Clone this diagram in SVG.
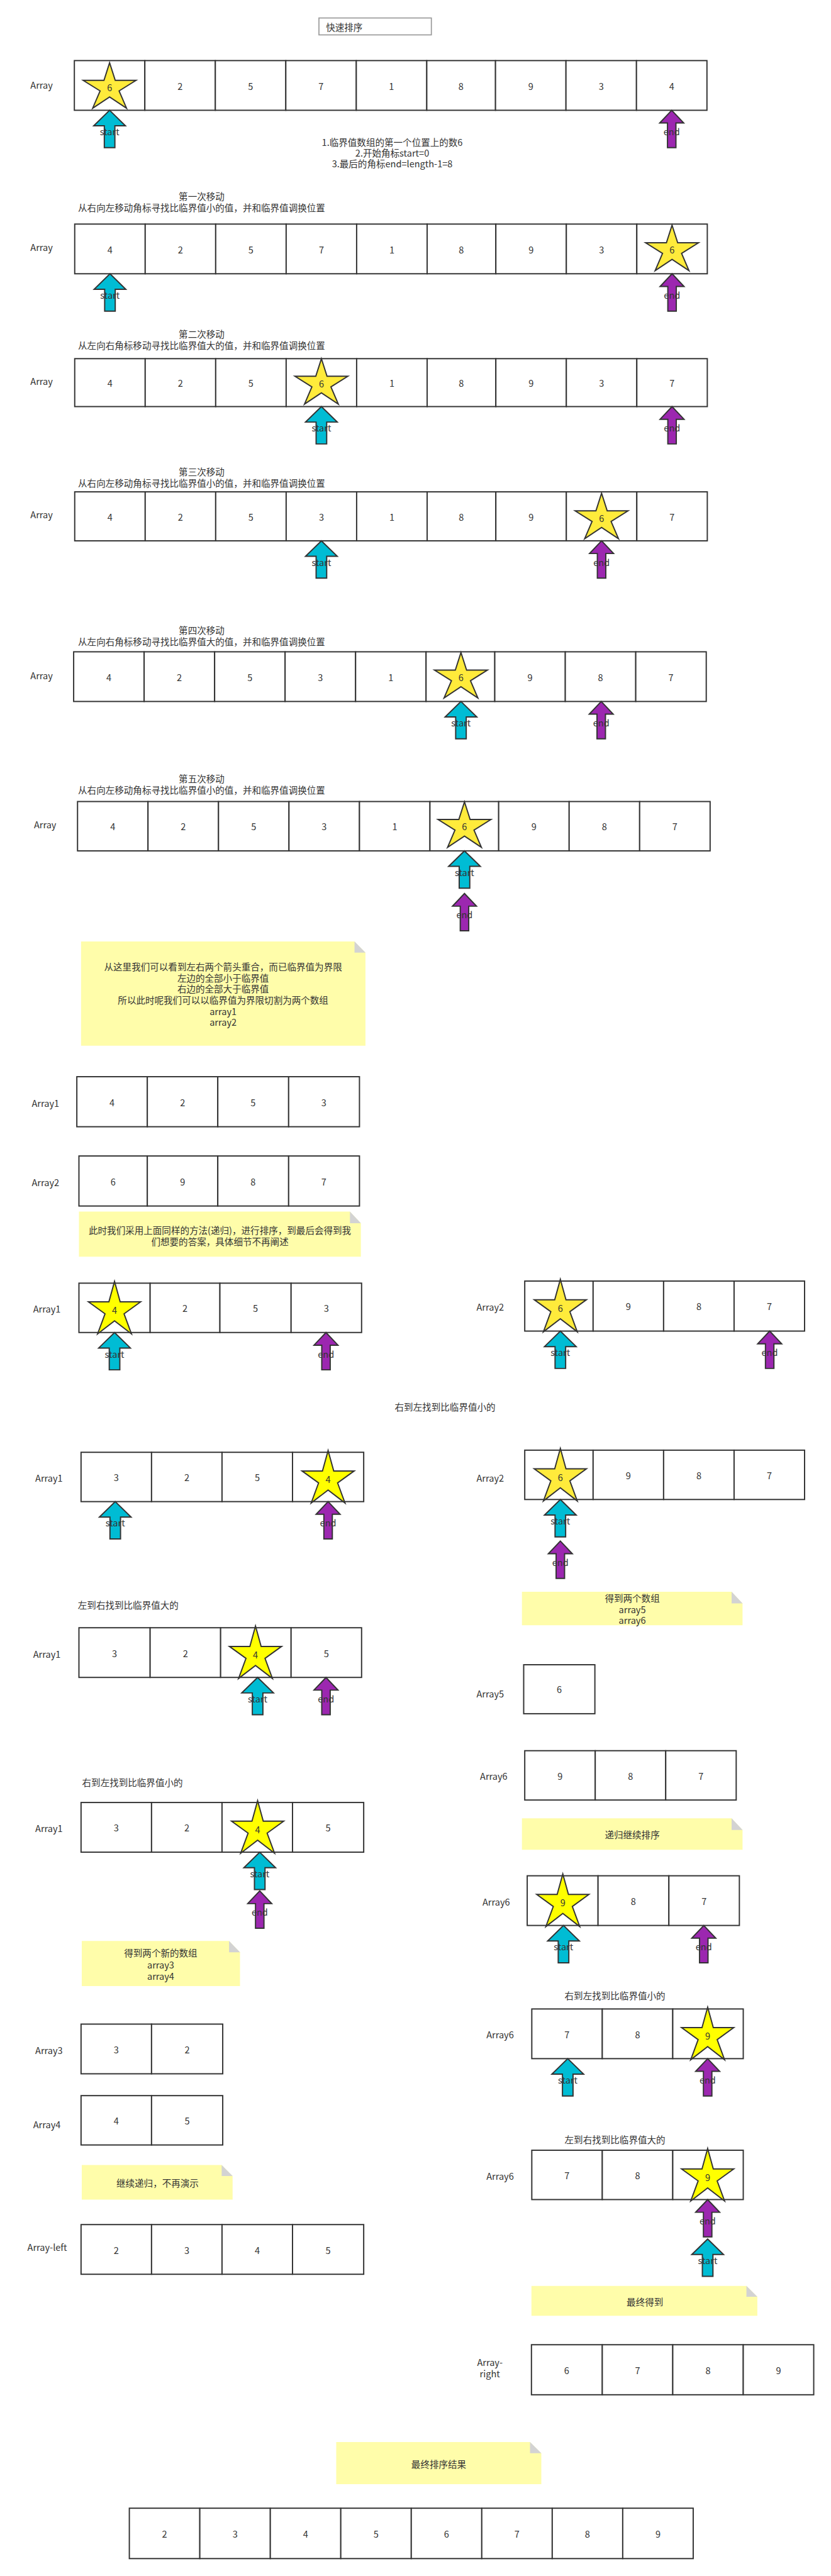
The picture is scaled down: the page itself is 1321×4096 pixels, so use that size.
<svg xmlns="http://www.w3.org/2000/svg" xmlns:xlink="http://www.w3.org/1999/xlink" width="1321" height="4096" viewBox="0 0 1321 4096">
<style>
.c{fill:#fff;stroke:#333;stroke-width:3.5}
.t{font-family:"Noto Sans CJK SC","Noto Sans",sans-serif;font-size:26px;fill:#333}
.m{text-anchor:middle}
.sa{fill:#FFEB3B;stroke:#333;stroke-width:3.5}
.sb{fill:#FFFF00;stroke:#333;stroke-width:3.5}
.ac{fill:#00BCD4;stroke:#333;stroke-width:3.5}
.ap{fill:#9C27B0;stroke:#333;stroke-width:3.5}
.n{fill:#FFFDAA}
.f{fill:#D3D3D3}
.tb{fill:#fff;stroke:#999;stroke-width:3}
</style>
<defs>
<polygon id="starA" points="0,0 16,50 75,50 27,80 48,129 0,97 -48,129 -27,80 -75,50 -16,50"/>
<polygon id="starB" points="0,0 16,58 74,58 27,92 48,149 0,112 -48,149 -27,92 -74,58 -16,58"/>
<polygon id="arrC" points="0,0 45,44 15,44 15,106 -15,106 -15,44 -45,44"/>
<polygon id="arrP" points="0,0 34,36 12,36 12,106 -12,106 -12,36 -34,36"/>
</defs>
<rect width="1321" height="4096" fill="#fff"/>
<g transform="scale(0.56022)">
<g id="title"><rect class="tb" x="905" y="51" width="319" height="48"/><text class="t" x="925" y="88">快速排序</text></g>

<!-- Row A -->
<g id="rowA">
<text class="t m" x="118" y="251">Array</text>
<rect class="c" x="211" y="172" width="200" height="141"/><rect class="c" x="411" y="172" width="200" height="141"/><rect class="c" x="611" y="172" width="200" height="141"/><rect class="c" x="811" y="172" width="200" height="141"/><rect class="c" x="1011" y="172" width="200" height="141"/><rect class="c" x="1211" y="172" width="195" height="141"/><rect class="c" x="1406" y="172" width="200" height="141"/><rect class="c" x="1606" y="172" width="200" height="141"/><rect class="c" x="1806" y="172" width="200" height="141"/>
<g class="t m"><text x="511" y="255">2</text><text x="711" y="255">5</text><text x="911" y="255">7</text><text x="1111" y="255">1</text><text x="1308" y="255">8</text><text x="1506" y="255">9</text><text x="1706" y="255">3</text><text x="1906" y="255">4</text></g>
<use href="#starA" x="311" y="178" class="sa"/><text class="t m" x="311" y="259">6</text>
</g>
<g id="rowA-start"><use href="#arrC" x="311" y="313" class="ac"/><text class="t m" x="311" y="384">start</text></g>
<g id="rowA-end"><use href="#arrP" x="1906" y="313" class="ap"/><text class="t m" x="1906" y="384">end</text></g>
<g id="intro" class="t m"><text x="1113" y="414">1.临界值数组的第一个位置上的数6</text><text x="1113" y="444">2.开始角标start=0</text><text x="1113" y="475">3.最后的角标end=length-1=8</text></g>

<!-- Row B -->
<g id="rowB-title" class="t m"><text x="572" y="567">第一次移动</text><text x="572" y="599">从右向左移动角标寻找比临界值小的值，并和临界值调换位置</text></g>
<g id="rowB">
<text class="t m" x="118" y="712">Array</text>
<rect class="c" x="212" y="636" width="200" height="141"/><rect class="c" x="412" y="636" width="200" height="141"/><rect class="c" x="612" y="636" width="200" height="141"/><rect class="c" x="812" y="636" width="200" height="141"/><rect class="c" x="1012" y="636" width="200" height="141"/><rect class="c" x="1212" y="636" width="195" height="141"/><rect class="c" x="1407" y="636" width="200" height="141"/><rect class="c" x="1607" y="636" width="200" height="141"/><rect class="c" x="1807" y="636" width="200" height="141"/>
<g class="t m"><text x="312" y="719">4</text><text x="512" y="719">2</text><text x="712" y="719">5</text><text x="912" y="719">7</text><text x="1112" y="719">1</text><text x="1309" y="719">8</text><text x="1507" y="719">9</text><text x="1707" y="719">3</text></g>
<use href="#starA" x="1907" y="639" class="sa"/><text class="t m" x="1907" y="720">6</text>
</g>
<g id="rowB-start"><use href="#arrC" x="312" y="777" class="ac"/><text class="t m" x="312" y="848">start</text></g>
<g id="rowB-end"><use href="#arrP" x="1907" y="777" class="ap"/><text class="t m" x="1907" y="848">end</text></g>

<!-- Row C -->
<g id="rowC-title" class="t m"><text x="572" y="958">第二次移动</text><text x="572" y="990">从左向右角标移动寻找比临界值大的值，并和临界值调换位置</text></g>
<g id="rowC">
<text class="t m" x="118" y="1092">Array</text>
<rect class="c" x="212" y="1018" width="200" height="136"/><rect class="c" x="412" y="1018" width="200" height="136"/><rect class="c" x="612" y="1018" width="200" height="136"/><rect class="c" x="812" y="1018" width="200" height="136"/><rect class="c" x="1012" y="1018" width="200" height="136"/><rect class="c" x="1212" y="1018" width="195" height="136"/><rect class="c" x="1407" y="1018" width="200" height="136"/><rect class="c" x="1607" y="1018" width="200" height="136"/><rect class="c" x="1807" y="1018" width="200" height="136"/>
<g class="t m"><text x="312" y="1098">4</text><text x="512" y="1098">2</text><text x="712" y="1098">5</text><text x="1112" y="1098">1</text><text x="1309" y="1098">8</text><text x="1507" y="1098">9</text><text x="1707" y="1098">3</text><text x="1907" y="1098">7</text></g>
<use href="#starA" x="912" y="1018" class="sa"/><text class="t m" x="912" y="1099">6</text>
</g>
<g id="rowC-start"><use href="#arrC" x="912" y="1154" class="ac"/><text class="t m" x="912" y="1225">start</text></g>
<g id="rowC-end"><use href="#arrP" x="1907" y="1154" class="ap"/><text class="t m" x="1907" y="1225">end</text></g>

<!-- Row D -->
<g id="rowD-title" class="t m"><text x="572" y="1350">第三次移动</text><text x="572" y="1382">从右向左移动角标寻找比临界值小的值，并和临界值调换位置</text></g>
<g id="rowD">
<text class="t m" x="118" y="1471">Array</text>
<rect class="c" x="212" y="1396" width="200" height="139"/><rect class="c" x="412" y="1396" width="200" height="139"/><rect class="c" x="612" y="1396" width="200" height="139"/><rect class="c" x="812" y="1396" width="200" height="139"/><rect class="c" x="1012" y="1396" width="200" height="139"/><rect class="c" x="1212" y="1396" width="195" height="139"/><rect class="c" x="1407" y="1396" width="200" height="139"/><rect class="c" x="1607" y="1396" width="200" height="139"/><rect class="c" x="1807" y="1396" width="200" height="139"/>
<g class="t m"><text x="312" y="1478">4</text><text x="512" y="1478">2</text><text x="712" y="1478">5</text><text x="912" y="1478">3</text><text x="1112" y="1478">1</text><text x="1309" y="1478">8</text><text x="1507" y="1478">9</text><text x="1907" y="1478">7</text></g>
<use href="#starA" x="1707" y="1400" class="sa"/><text class="t m" x="1707" y="1481">6</text>
</g>
<g id="rowD-start"><use href="#arrC" x="912" y="1535" class="ac"/><text class="t m" x="912" y="1606">start</text></g>
<g id="rowD-end"><use href="#arrP" x="1707" y="1535" class="ap"/><text class="t m" x="1707" y="1606">end</text></g>

<!-- Row E -->
<g id="rowE-title" class="t m"><text x="572" y="1799">第四次移动</text><text x="572" y="1831">从左向右角标移动寻找比临界值大的值，并和临界值调换位置</text></g>
<g id="rowE">
<text class="t m" x="118" y="1927">Array</text>
<rect class="c" x="209" y="1850" width="200" height="141"/><rect class="c" x="409" y="1850" width="200" height="141"/><rect class="c" x="609" y="1850" width="200" height="141"/><rect class="c" x="809" y="1850" width="200" height="141"/><rect class="c" x="1009" y="1850" width="200" height="141"/><rect class="c" x="1209" y="1850" width="195" height="141"/><rect class="c" x="1404" y="1850" width="200" height="141"/><rect class="c" x="1604" y="1850" width="200" height="141"/><rect class="c" x="1804" y="1850" width="200" height="141"/>
<g class="t m"><text x="309" y="1933">4</text><text x="509" y="1933">2</text><text x="709" y="1933">5</text><text x="909" y="1933">3</text><text x="1109" y="1933">1</text><text x="1504" y="1933">9</text><text x="1704" y="1933">8</text><text x="1904" y="1933">7</text></g>
<use href="#starA" x="1308" y="1852" class="sa"/><text class="t m" x="1308" y="1933">6</text>
</g>
<g id="rowE-start"><use href="#arrC" x="1308" y="1991" class="ac"/><text class="t m" x="1308" y="2062">start</text></g>
<g id="rowE-end"><use href="#arrP" x="1706" y="1991" class="ap"/><text class="t m" x="1706" y="2062">end</text></g>

<!-- Row F -->
<g id="rowF-title" class="t m"><text x="572" y="2220">第五次移动</text><text x="572" y="2252">从右向左移动角标寻找比临界值小的值，并和临界值调换位置</text></g>
<g id="rowF">
<text class="t m" x="128" y="2351">Array</text>
<rect class="c" x="220" y="2275" width="200" height="140"/><rect class="c" x="420" y="2275" width="200" height="140"/><rect class="c" x="620" y="2275" width="200" height="140"/><rect class="c" x="820" y="2275" width="200" height="140"/><rect class="c" x="1020" y="2275" width="200" height="140"/><rect class="c" x="1220" y="2275" width="195" height="140"/><rect class="c" x="1415" y="2275" width="200" height="140"/><rect class="c" x="1615" y="2275" width="200" height="140"/><rect class="c" x="1815" y="2275" width="200" height="140"/>
<g class="t m"><text x="320" y="2357">4</text><text x="520" y="2357">2</text><text x="720" y="2357">5</text><text x="920" y="2357">3</text><text x="1120" y="2357">1</text><text x="1515" y="2357">9</text><text x="1715" y="2357">8</text><text x="1915" y="2357">7</text></g>
<use href="#starA" x="1318" y="2276" class="sa"/><text class="t m" x="1318" y="2357">6</text>
</g>
<g id="rowF-start"><use href="#arrC" x="1318" y="2415" class="ac"/><text class="t m" x="1318" y="2486">start</text></g>
<g id="rowF-end"><use href="#arrP" x="1318" y="2536" class="ap"/><text class="t m" x="1318" y="2607">end</text></g>

<!-- Note 1 -->
<g id="note1"><polygon class="n" points="230,2672 1006,2672 1037,2704 1037,2968 230,2968"/><polygon class="f" points="1006,2672 1006,2704 1037,2704"/>
<g class="t m"><text x="633" y="2755">从这里我们可以看到左右两个箭头重合，而已临界值为界限</text><text x="633" y="2786">左边的全部小于临界值</text><text x="633" y="2817">右边的全部大于临界值</text><text x="633" y="2848">所以此时呢我们可以以临界值为界限切割为两个数组</text><text x="633" y="2881">array1</text><text x="633" y="2912">array2</text></g></g>

<!-- Array1 / Array2 split -->
<g id="split-array1">
<text class="t m" x="129" y="3141">Array1</text>
<rect class="c" x="218" y="3056" width="200" height="142"/><rect class="c" x="418" y="3056" width="200" height="142"/><rect class="c" x="618" y="3056" width="201" height="142"/><rect class="c" x="819" y="3056" width="201" height="142"/>
<g class="t m"><text x="318" y="3139">4</text><text x="518" y="3139">2</text><text x="718" y="3139">5</text><text x="919" y="3139">3</text></g>
</g>
<g id="split-array2">
<text class="t m" x="129" y="3366">Array2</text>
<rect class="c" x="224" y="3281" width="194" height="142"/><rect class="c" x="418" y="3281" width="200" height="142"/><rect class="c" x="618" y="3281" width="201" height="142"/><rect class="c" x="819" y="3281" width="201" height="142"/>
<g class="t m"><text x="321" y="3364">6</text><text x="518" y="3364">9</text><text x="718" y="3364">8</text><text x="919" y="3364">7</text></g>
</g>
<g id="note2"><polygon class="n" points="224,3439 993,3439 1024,3472 1024,3567 224,3567"/><polygon class="f" points="993,3439 993,3472 1024,3472"/>
<g class="t m"><text x="624" y="3502">此时我们采用上面同样的方法(递归)，进行排序，到最后会得到我</text><text x="624" y="3535">们想要的答案，具体细节不再阐述</text></g></g>

<!-- Row G -->
<g id="rowG-left">
<text class="t m" x="133" y="3725">Array1</text>
<rect class="c" x="224" y="3642" width="202" height="140"/><rect class="c" x="426" y="3642" width="198" height="140"/><rect class="c" x="624" y="3642" width="202" height="140"/><rect class="c" x="826" y="3642" width="200" height="140"/>
<g class="t m"><text x="525" y="3724">2</text><text x="725" y="3724">5</text><text x="926" y="3724">3</text></g>
<use href="#starB" x="325" y="3637" class="sb"/><text class="t m" x="325" y="3729">4</text>
</g>
<g id="rowG-left-start"><use href="#arrC" x="325" y="3782" class="ac"/><text class="t m" x="325" y="3853">start</text></g>
<g id="rowG-left-end"><use href="#arrP" x="925" y="3782" class="ap"/><text class="t m" x="925" y="3853">end</text></g>
<g id="rowG-right">
<text class="t m" x="1391" y="3720">Array2</text>
<rect class="c" x="1489" y="3636" width="194" height="142"/><rect class="c" x="1683" y="3636" width="200" height="142"/><rect class="c" x="1883" y="3636" width="200" height="142"/><rect class="c" x="2083" y="3636" width="200" height="142"/>
<g class="t m"><text x="1783" y="3719">9</text><text x="1983" y="3719">8</text><text x="2183" y="3719">7</text></g>
<use href="#starB" x="1590" y="3631" class="sa"/><text class="t m" x="1590" y="3723">6</text>
</g>
<g id="rowG-right-start"><use href="#arrC" x="1590" y="3778" class="ac"/><text class="t m" x="1590" y="3849">start</text></g>
<g id="rowG-right-end"><use href="#arrP" x="2184" y="3778" class="ap"/><text class="t m" x="2184" y="3849">end</text></g>

<text id="lbl-r2l-1" class="t m" x="1263" y="4004">右到左找到比临界值小的</text>

<!-- Row H -->
<g id="rowH-left">
<text class="t m" x="139" y="4206">Array1</text>
<rect class="c" x="230" y="4122" width="200" height="140"/><rect class="c" x="430" y="4122" width="200" height="140"/><rect class="c" x="630" y="4122" width="200" height="140"/><rect class="c" x="830" y="4122" width="202" height="140"/>
<g class="t m"><text x="330" y="4204">3</text><text x="530" y="4204">2</text><text x="730" y="4204">5</text></g>
<use href="#starB" x="931" y="4117" class="sb"/><text class="t m" x="931" y="4209">4</text>
</g>
<g id="rowH-left-start"><use href="#arrC" x="327" y="4262" class="ac"/><text class="t m" x="327" y="4333">start</text></g>
<g id="rowH-left-end"><use href="#arrP" x="931" y="4262" class="ap"/><text class="t m" x="931" y="4333">end</text></g>
<g id="rowH-right">
<text class="t m" x="1391" y="4206">Array2</text>
<rect class="c" x="1489" y="4116" width="194" height="140"/><rect class="c" x="1683" y="4116" width="200" height="140"/><rect class="c" x="1883" y="4116" width="200" height="140"/><rect class="c" x="2083" y="4116" width="200" height="140"/>
<g class="t m"><text x="1783" y="4198">9</text><text x="1983" y="4198">8</text><text x="2183" y="4198">7</text></g>
<use href="#starB" x="1590" y="4111" class="sa"/><text class="t m" x="1590" y="4203">6</text>
</g>
<g id="rowH-right-start"><use href="#arrC" x="1590" y="4256" class="ac"/><text class="t m" x="1590" y="4327">start</text></g>
<g id="rowH-right-end"><use href="#arrP" x="1590" y="4374" class="ap"/><text class="t m" x="1590" y="4445">end</text></g>

<g id="note3"><polygon class="n" points="1481,4518 2076,4518 2107,4551 2107,4613 1481,4613"/><polygon class="f" points="2076,4518 2076,4551 2107,4551"/>
<g class="t m"><text x="1794" y="4546">得到两个数组</text><text x="1794" y="4578">array5</text><text x="1794" y="4609">array6</text></g></g>

<text id="lbl-l2r-1" class="t" x="221" y="4566">左到右找到比临界值大的</text>

<!-- Row I -->
<g id="rowI-left">
<text class="t m" x="133" y="4705">Array1</text>
<rect class="c" x="224" y="4620" width="202" height="141"/><rect class="c" x="426" y="4620" width="200" height="141"/><rect class="c" x="626" y="4620" width="200" height="141"/><rect class="c" x="826" y="4620" width="200" height="141"/>
<g class="t m"><text x="325" y="4703">3</text><text x="526" y="4703">2</text><text x="926" y="4703">5</text></g>
<use href="#starB" x="725" y="4615" class="sb"/><text class="t m" x="725" y="4707">4</text>
</g>
<g id="rowI-left-start"><use href="#arrC" x="731" y="4761" class="ac"/><text class="t m" x="731" y="4832">start</text></g>
<g id="rowI-left-end"><use href="#arrP" x="925" y="4761" class="ap"/><text class="t m" x="925" y="4832">end</text></g>

<g id="array5">
<text class="t m" x="1391" y="4817">Array5</text>
<rect class="c" x="1486" y="4725" width="202" height="139"/><text class="t m" x="1587" y="4806">6</text>
</g>
<g id="array6a">
<text class="t m" x="1401" y="5051">Array6</text>
<rect class="c" x="1489" y="4969" width="200" height="140"/><rect class="c" x="1689" y="4969" width="200" height="140"/><rect class="c" x="1889" y="4969" width="200" height="140"/>
<g class="t m"><text x="1589" y="5051">9</text><text x="1789" y="5051">8</text><text x="1989" y="5051">7</text></g>
</g>
<g id="note4"><polygon class="n" points="1481,5161 2076,5161 2107,5194 2107,5250 1481,5250"/><polygon class="f" points="2076,5161 2076,5194 2107,5194"/>
<text class="t m" x="1794" y="5217">递归继续排序</text></g>

<text id="lbl-r2l-2" class="t" x="233" y="5070">右到左找到比临界值小的</text>

<!-- Row J -->
<g id="rowJ-left">
<text class="t m" x="139" y="5200">Array1</text>
<rect class="c" x="230" y="5116" width="200" height="141"/><rect class="c" x="430" y="5116" width="200" height="141"/><rect class="c" x="630" y="5116" width="200" height="141"/><rect class="c" x="830" y="5116" width="202" height="141"/>
<g class="t m"><text x="330" y="5198">3</text><text x="530" y="5198">2</text><text x="931" y="5198">5</text></g>
<use href="#starB" x="731" y="5111" class="sb"/><text class="t m" x="731" y="5203">4</text>
</g>
<g id="rowJ-left-start"><use href="#arrC" x="737" y="5257" class="ac"/><text class="t m" x="737" y="5328">start</text></g>
<g id="rowJ-left-end"><use href="#arrP" x="737" y="5367" class="ap"/><text class="t m" x="737" y="5438">end</text></g>
<g id="rowJ-right">
<text class="t m" x="1408" y="5408">Array6</text>
<rect class="c" x="1496" y="5324" width="201" height="141"/><rect class="c" x="1697" y="5324" width="201" height="141"/><rect class="c" x="1898" y="5324" width="200" height="141"/>
<g class="t m"><text x="1797" y="5407">8</text><text x="1998" y="5407">7</text></g>
<use href="#starB" x="1597" y="5319" class="sb"/><text class="t m" x="1597" y="5411">9</text>
</g>
<g id="rowJ-right-start"><use href="#arrC" x="1599" y="5465" class="ac"/><text class="t m" x="1599" y="5536">start</text></g>
<g id="rowJ-right-end"><use href="#arrP" x="1997" y="5465" class="ap"/><text class="t m" x="1997" y="5536">end</text></g>

<g id="note5"><polygon class="n" points="232,5509 650,5509 681,5541 681,5637 232,5637"/><polygon class="f" points="650,5509 650,5541 681,5541"/>
<g class="t m"><text x="456" y="5554">得到两个新的数组</text><text x="456" y="5587">array3</text><text x="456" y="5619">array4</text></g></g>

<text id="lbl-r2l-3" class="t m" x="1745" y="5675">右到左找到比临界值小的</text>

<!-- Row K -->
<g id="rowK-right">
<text class="t m" x="1419" y="5786">Array6</text>
<rect class="c" x="1509" y="5702" width="200" height="141"/><rect class="c" x="1709" y="5702" width="200" height="141"/><rect class="c" x="1909" y="5702" width="200" height="141"/>
<g class="t m"><text x="1609" y="5785">7</text><text x="1809" y="5785">8</text></g>
<use href="#starB" x="2008" y="5697" class="sb"/><text class="t m" x="2008" y="5789">9</text>
</g>
<g id="rowK-right-start"><use href="#arrC" x="1611" y="5843" class="ac"/><text class="t m" x="1611" y="5914">start</text></g>
<g id="rowK-right-end"><use href="#arrP" x="2008" y="5843" class="ap"/><text class="t m" x="2008" y="5914">end</text></g>

<g id="array3">
<text class="t m" x="139" y="5830">Array3</text>
<rect class="c" x="230" y="5745" width="200" height="141"/><rect class="c" x="430" y="5745" width="202" height="141"/>
<g class="t m"><text x="330" y="5828">3</text><text x="531" y="5828">2</text></g>
</g>
<g id="array4">
<text class="t m" x="133" y="6040">Array4</text>
<rect class="c" x="230" y="5948" width="200" height="140"/><rect class="c" x="430" y="5948" width="202" height="140"/>
<g class="t m"><text x="330" y="6030">4</text><text x="531" y="6030">5</text></g>
</g>

<text id="lbl-l2r-2" class="t m" x="1745" y="6084">左到右找到比临界值大的</text>

<!-- Row L -->
<g id="rowL-right">
<text class="t m" x="1419" y="6187">Array6</text>
<rect class="c" x="1509" y="6103" width="200" height="140"/><rect class="c" x="1709" y="6103" width="200" height="140"/><rect class="c" x="1909" y="6103" width="200" height="140"/>
<g class="t m"><text x="1609" y="6185">7</text><text x="1809" y="6185">8</text></g>
<use href="#starB" x="2008" y="6098" class="sb"/><text class="t m" x="2008" y="6190">9</text>
</g>
<g id="rowL-right-end"><use href="#arrP" x="2008" y="6243" class="ap"/><text class="t m" x="2008" y="6314">end</text></g>
<g id="rowL-right-start"><use href="#arrC" x="2008" y="6355" class="ac"/><text class="t m" x="2008" y="6426">start</text></g>

<g id="note6"><polygon class="n" points="232,6145 629,6145 660,6176 660,6243 232,6243"/><polygon class="f" points="629,6145 629,6176 660,6176"/>
<text class="t m" x="447" y="6207">继续递归，不再演示</text></g>

<g id="array-left">
<text class="t m" x="134" y="6388">Array-left</text>
<rect class="c" x="230" y="6314" width="200" height="141"/><rect class="c" x="430" y="6314" width="200" height="141"/><rect class="c" x="630" y="6314" width="200" height="141"/><rect class="c" x="830" y="6314" width="202" height="141"/>
<g class="t m"><text x="330" y="6397">2</text><text x="530" y="6397">3</text><text x="730" y="6397">4</text><text x="931" y="6397">5</text></g>
</g>

<g id="note7"><polygon class="n" points="1508,6488 2118,6488 2149,6519 2149,6573 1508,6573"/><polygon class="f" points="2118,6488 2118,6519 2149,6519"/>
<text class="t m" x="1830" y="6543">最终得到</text></g>

<g id="array-right">
<text class="t m" x="1390" y="6716">Array-</text><text class="t m" x="1390" y="6748">right</text>
<rect class="c" x="1508" y="6655" width="201" height="142"/><rect class="c" x="1709" y="6655" width="200" height="142"/><rect class="c" x="1909" y="6655" width="200" height="142"/><rect class="c" x="2109" y="6655" width="200" height="142"/>
<g class="t m"><text x="1608" y="6738">6</text><text x="1809" y="6738">7</text><text x="2009" y="6738">8</text><text x="2209" y="6738">9</text></g>
</g>

<g id="note8"><polygon class="n" points="954,6931 1504,6931 1536,6963 1536,7051 954,7051"/><polygon class="f" points="1504,6931 1504,6963 1536,6963"/>
<text class="t m" x="1245" y="7004">最终排序结果</text></g>

<g id="final-array">
<rect class="c" x="367" y="7119" width="200" height="143"/><rect class="c" x="567" y="7119" width="200" height="143"/><rect class="c" x="767" y="7119" width="200" height="143"/><rect class="c" x="967" y="7119" width="200" height="143"/><rect class="c" x="1167" y="7119" width="200" height="143"/><rect class="c" x="1367" y="7119" width="200" height="143"/><rect class="c" x="1567" y="7119" width="200" height="143"/><rect class="c" x="1767" y="7119" width="200" height="143"/>
<g class="t m"><text x="467" y="7202">2</text><text x="667" y="7202">3</text><text x="867" y="7202">4</text><text x="1067" y="7202">5</text><text x="1267" y="7202">6</text><text x="1467" y="7202">7</text><text x="1667" y="7202">8</text><text x="1867" y="7202">9</text></g>
</g>
<g id="connectors"/>
</g>
</svg>
